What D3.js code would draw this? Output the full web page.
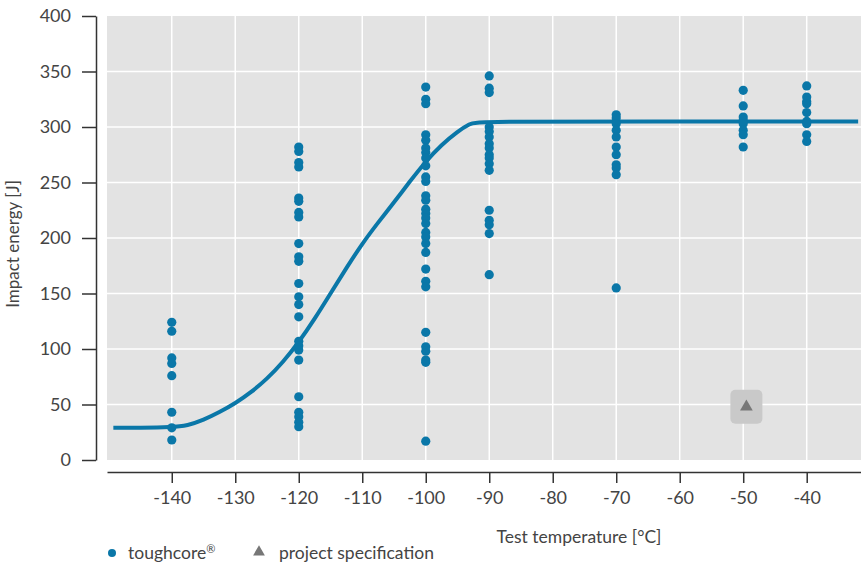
<!DOCTYPE html>
<meta charset="utf-8">
<style>
  body { margin: 0; background: #fff; }
  text { font-family: Lato, "Open Sans", sans-serif; fill: #444; }
</style>
<svg width="861" height="565"></svg>
<script src="https://d3js.org/d3.v7.min.js"></script>
<script>

// measured impact energies [J] per test temperature [°C]
var temps = [-140, -120, -100, -90, -70, -50, -40];
var energies = [
  [124, 116, 92, 87, 76, 43, 29, 18],
  [282, 278, 268, 264, 236, 233, 223, 219, 195, 183, 179, 159, 147, 140, 129, 107, 103, 99, 90, 57, 43, 39, 34, 30],
  [336, 325, 321, 293, 288, 281, 277, 272, 265, 255, 251, 238, 234, 226, 222, 218, 213, 205, 201, 195, 187, 172, 161, 156, 115, 102, 98, 90, 88, 17],
  [346, 335, 331, 300, 296, 291, 285, 281, 275, 272, 267, 261, 225, 216, 212, 204, 167],
  [311, 308, 303, 297, 291, 282, 275, 266, 263, 257, 155],
  [333, 319, 309, 306, 303, 297, 293, 282],
  [337, 327, 323, 321, 313, 305, 303, 293, 287]
];

// transition curve
var curveT = [-149.2, -145, -140, -137.5, -135, -132.5, -130, -127.5, -125, -122.5, -120, -117.5, -115, -112.5, -110, -107.5, -105, -102.5, -100, -97.5, -95, -93, -92, -60, -31.9];
var curveE = [29, 29, 29.5, 31, 36, 43, 51, 61, 73, 88, 106, 127, 150, 173, 195, 214, 232, 251, 269, 284, 296, 303, 305, 305, 305];

// project specification
var specT = [-49.5];
var specE = [48];

var xTicks = [-140, -130, -120, -110, -100, -90, -80, -70, -60, -50, -40];
var yTicks = [0, 50, 100, 150, 200, 250, 300, 350, 400];

var blue = "#0a77a8";

var svg = d3.select("svg");

var x = d3.scaleLinear().domain([-150.2, -31.45]).range([107, 861]);
var y = d3.scaleLinear().domain([0, 400]).range([460, 16]);

// plot background
svg.append("rect")
    .attr("x", x.range()[0])
    .attr("y", y(400))
    .attr("width", x.range()[1] - x.range()[0])
    .attr("height", y(0) - y(400))
    .attr("fill", "#e3e3e3");

// grid
svg.append("g").selectAll("line").data(xTicks).enter().append("line")
    .attr("x1", function(d) { return x(d); })
    .attr("x2", function(d) { return x(d); })
    .attr("y1", y(0)).attr("y2", y(400))
    .attr("stroke", "#fff").attr("stroke-width", 1.5);

svg.append("g").selectAll("line").data(yTicks.slice(1, -1)).enter().append("line")
    .attr("x1", x.range()[0]).attr("x2", x.range()[1])
    .attr("y1", function(d) { return y(d); })
    .attr("y2", function(d) { return y(d); })
    .attr("stroke", "#fff").attr("stroke-width", 1.5);

// axes
var fmt = function(d) { return String(d); };

var yAxis = svg.append("g")
    .attr("transform", "translate(96,0)")
    .call(d3.axisLeft(y).tickValues(yTicks).tickFormat(fmt).tickSize(14).tickSizeOuter(0).tickPadding(11));

var xAxis = svg.append("g")
    .attr("transform", "translate(0,472)")
    .call(d3.axisBottom(x).tickValues(xTicks).tickFormat(fmt).tickSize(11).tickSizeOuter(0).tickPadding(8));

[xAxis, yAxis].forEach(function(a) {
  a.select(".domain").attr("stroke", "#333").attr("stroke-width", 1.5);
  a.selectAll(".tick line").attr("stroke", "#333").attr("stroke-width", 1.5);
  a.selectAll(".tick text")
      .style("font-family", "Lato, 'Open Sans', sans-serif")
      .style("font-size", "18px")
      .attr("fill", "#444");
});

svg.append("text")
    .attr("transform", "translate(19,244) rotate(-90)")
    .attr("text-anchor", "middle")
    .style("font-size", "17px")
    .text("Impact energy [J]");

svg.append("text")
    .attr("x", 579)
    .attr("y", 543)
    .attr("text-anchor", "middle")
    .style("font-size", "17.5px")
    .text("Test temperature [°C]");

// transition curve
var curveData = curveT.map(function(t, i) { return [t, curveE[i]]; });

svg.append("path")
    .datum(curveData)
    .attr("fill", "none")
    .attr("stroke", blue)
    .attr("stroke-width", 4)
    .attr("stroke-linejoin", "round")
    .attr("d", d3.line()
        .x(function(d) { return x(d[0]); })
        .y(function(d) { return y(d[1]); })
        .curve(d3.curveBasis));

// measurements
var points = [];
temps.forEach(function(t, i) {
  energies[i].forEach(function(e) { points.push({t: t, e: e}); });
});

svg.append("g").selectAll("circle").data(points).enter().append("circle")
    .attr("cx", function(d) { return x(d.t); })
    .attr("cy", function(d) { return y(d.e); })
    .attr("r", 4.6)
    .attr("fill", blue);

// specification marker
var spec = specT.map(function(t, i) { return {t: t, e: specE[i]}; });

var sg = svg.append("g").selectAll("g").data(spec).enter().append("g")
    .attr("transform", function(d) { return "translate(" + x(d.t) + "," + y(d.e) + ")"; });
sg.append("rect")
    .attr("x", -16).attr("y", -17)
    .attr("width", 32).attr("height", 34)
    .attr("rx", 5)
    .attr("fill", "#c9c9c9");
sg.append("path")
    .attr("d", d3.symbol().type(d3.symbolTriangle).size(70))
    .attr("fill", "#777");

// legend
var legend = svg.append("g");
legend.append("circle")
    .attr("cx", 112).attr("cy", 553).attr("r", 4)
    .attr("fill", blue);
var lt = legend.append("text")
    .attr("x", 128).attr("y", 559)
    .style("font-size", "17.5px");
lt.append("tspan").text("toughcore");
lt.append("tspan")
    .attr("dy", -6)
    .style("font-size", "11px")
    .text("®");
legend.append("path")
    .attr("transform", "translate(259,552)")
    .attr("d", d3.symbol().type(d3.symbolTriangle).size(60))
    .attr("fill", "#777");
legend.append("text")
    .attr("x", 279).attr("y", 559)
    .style("font-size", "17.5px")
    .text("project specification");

</script>
